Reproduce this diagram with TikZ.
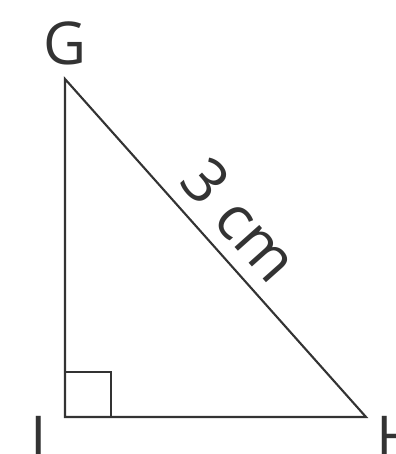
\documentclass[tikz,border=0pt]{standalone}
\usepackage{fontspec}
\setmainfont{Open Sans}
\usetikzlibrary{positioning,calc}

\begin{document}
\begin{tikzpicture}[x=0.025cm, y=-0.025cm]

\tikzset{
  side/.style={draw=black!80, line width=1.5pt, line join=miter},
  vlabel/.style={inner sep=0pt, font=\fontsize{42}{48}\selectfont, text=black!80},
  mlabel/.style={font=\fontsize{44}{50}\selectfont, text=black!80, inner sep=10pt}
}

\useasboundingbox (0,0) rectangle (395,454);

% ==========================
% Vertices
% ==========================
\coordinate (G) at (65,79);
\coordinate (I) at (65,417);
\coordinate (H) at (366,417);

% ==========================
% Triangle + right angle mark
% ==========================
\draw[side] (G) -- (I) -- (H) -- cycle;
\path (G) -- (H) node[mlabel, pos=0.49, sloped, above] (hyp) {3 cm};
\draw[side] ($(I)+(0,-45)$) -- ++(46,0) -- ++(0,45);

% Labels
\node[vlabel, anchor=base] (labG) at (65,64) {G};
\node[vlabel, anchor=base west] (labI) at (30.5,458) {I};
\node[vlabel, anchor=base west] (labH) at (376.5,458) {H};

\end{tikzpicture}
\end{document}
